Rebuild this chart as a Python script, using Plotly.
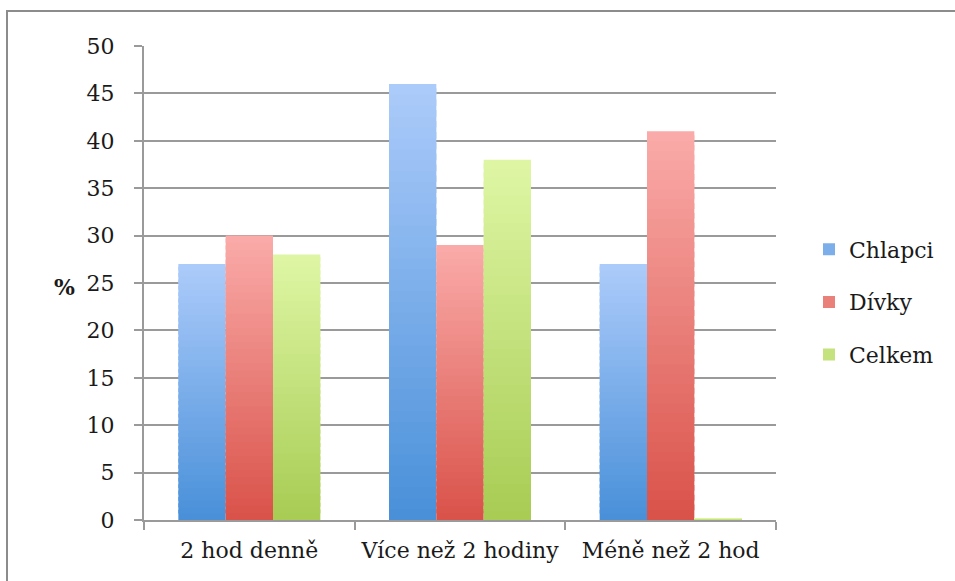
import plotly.graph_objects as go

# --- data ---------------------------------------------------------------
categories = ["2 hod denně", "Více než 2 hodiny", "Méně než 2 hod"]
chlapci = [27, 46, 27]
divky = [30, 29, 41]
celkem = [28, 38, 0.2]
series_names = ["Chlapci", "Dívky", "Celkem"]
y_ticks = [0, 5, 10, 15, 20, 25, 30, 35, 40, 45, 50]

# vertical gradient per series: (bottom colour, top colour)
gradients = {
    "Chlapci": ((74, 144, 217), (171, 203, 250)),
    "Dívky": ((217, 83, 74), (250, 170, 168)),
    "Celkem": ((168, 204, 84), (222, 246, 164)),
}

N_SEG = 40
FONT = "DejaVu Serif"
FONT_SIZE = 22
TEXT = "#1a1a1a"
GRID = "#9a9a9a"


def mix(c0, c1, t):
    return "rgb({},{},{})".format(*[round(a + (b - a) * t) for a, b in zip(c0, c1)])


fig = go.Figure()
for name, values in zip(series_names, [chlapci, divky, celkem]):
    bottom, top = gradients[name]
    for k in range(N_SEG):
        t = k / (N_SEG - 1)
        seg = [v / N_SEG for v in values]
        # slight overlap hides seams between stacked slices
        height = [s * (1.6 if k < N_SEG - 1 else 1.0) for s in seg]
        fig.add_trace(go.Bar(
            x=categories,
            y=height,
            base=[s * k for s in seg],
            offsetgroup=name,
            legendgroup=name,
            name=name,
            showlegend=(k == N_SEG // 2),
            marker=dict(color=mix(bottom, top, t), line=dict(width=0)),
            hoverinfo="skip",
        ))

# plot-area geometry in pixels
L, R, T, B = 144, 179, 46, 61
W, H = 955, 581
pw, ph = W - L - R, H - T - B


def px_x(x):
    return (x - L) / pw


def px_y(y):
    return (H - B - y) / ph


fig.update_layout(
    width=W,
    height=H,
    margin=dict(l=L, r=R, t=T, b=B),
    paper_bgcolor="white",
    plot_bgcolor="white",
    barmode="group",
    bargap=0.326,
    bargroupgap=0,
    font=dict(family=FONT, size=FONT_SIZE, color=TEXT),
    legend=dict(
        x=px_x(809), y=px_y(302), xanchor="left", yanchor="middle",
        font=dict(family=FONT, size=FONT_SIZE, color=TEXT),
        tracegroupgap=21,
        bgcolor="rgba(0,0,0,0)",
        itemwidth=30,
    ),
    xaxis=dict(
        type="category",
        showgrid=False,
        showline=True,
        linecolor=GRID,
        linewidth=2,
        ticks="outside",
        tickson="boundaries",
        ticklen=8,
        tickwidth=2,
        tickcolor=GRID,
        ticklabelstandoff=10,
        zeroline=False,
    ),
    yaxis=dict(
        range=[0, 50],
        tickvals=y_ticks,
        showgrid=True,
        gridcolor=GRID,
        gridwidth=2,
        showline=True,
        linecolor=GRID,
        linewidth=2,
        ticks="outside",
        ticklen=8,
        tickwidth=2,
        tickcolor=GRID,
        ticklabelstandoff=15,
        zeroline=False,
    ),
    shapes=[dict(
        type="rect", xref="paper", yref="paper",
        x0=px_x(7), x1=px_x(990), y0=px_y(620), y1=px_y(11),
        line=dict(color="#8c8c8c", width=2), fillcolor="rgba(0,0,0,0)",
        layer="below",
    )],
    annotations=[dict(
        text="<b>%</b>", xref="paper", yref="paper",
        x=px_x(64), y=px_y(287), xanchor="center", yanchor="middle",
        showarrow=False, font=dict(family=FONT, size=FONT_SIZE, color=TEXT),
    )],
)

fig.write_html("out.html")
